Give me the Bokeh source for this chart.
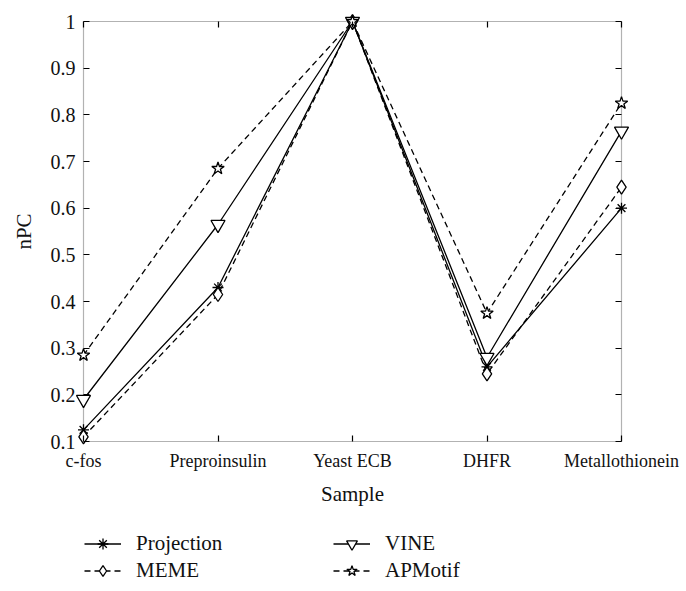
from bokeh.plotting import figure
from bokeh.layouts import column
from bokeh.models import LinearAxis, FixedTicker, Legend, LegendItem, Range1d, BoxAnnotation
from bokeh.embed import file_html
from bokeh.resources import INLINE

categories = ["c-fos", "Preproinsulin", "Yeast ECB", "DHFR", "Metallothionein"]
projection = [0.125, 0.43, 1.0, 0.26, 0.60]
meme = [0.11, 0.415, 1.0, 0.245, 0.645]
vine = [0.19, 0.565, 1.0, 0.28, 0.765]
apmotif = [0.285, 0.685, 1.0, 0.375, 0.825]
y_ticks = [0.1, 0.2, 0.3, 0.4, 0.5, 0.6, 0.7, 0.8, 0.9, 1.0]
y_tick_labels = ["0.1", "0.2", "0.3", "0.4", "0.5", "0.6", "0.7", "0.8", "0.9", "1"]

xs = list(range(1, len(categories) + 1))
FONT = "Liberation Serif"
TXT = "#111111"

# box size in pixels, plus an invisible pad so that edge markers are not clipped
BOX_W, BOX_H, PAD = 538, 420, 8
x0, x1 = xs[0], xs[-1]
y0, y1 = y_ticks[0], y_ticks[-1]
dx = PAD * (x1 - x0) / BOX_W
dy = PAD * (y1 - y0) / BOX_H

p = figure(width=686, height=515, output_backend="svg", toolbar_location=None,
           x_range=Range1d(x0 - dx, x1 + dx), y_range=Range1d(y0 - dy, y1 + dy),
           min_border_left=83 - PAD, min_border_right=65 - PAD, min_border_top=21 - PAD,
           min_border_bottom=0,
           frame_width=BOX_W + 2 * PAD, frame_height=BOX_H + 2 * PAD)
p.grid.visible = False
p.outline_line_color = None
p.background_fill_color = "white"

def style_axis(ax, labels=True, size="19px"):
    # ticks drawn from the box edge (PAD inside the frame edge) inward by 6px
    ax.major_tick_in = PAD + 6
    ax.major_tick_out = -PAD
    ax.minor_tick_in = 0
    ax.minor_tick_out = 0
    ax.axis_line_color = None
    ax.major_tick_line_color = "black"
    ax.major_tick_line_width = 1.2
    ax.major_label_text_font = FONT
    ax.major_label_text_font_size = size
    ax.major_label_text_color = TXT
    ax.axis_label_text_font = FONT
    ax.axis_label_text_font_size = "21px"
    ax.axis_label_text_font_style = "normal"
    ax.axis_label_text_color = TXT
    if not labels:
        ax.major_label_text_alpha = 0
        ax.major_label_text_font_size = "0px"

xa = p.xaxis[0]
xa.ticker = FixedTicker(ticks=xs)
xa.major_label_overrides = {x: c for x, c in zip(xs, categories)}
xa.axis_label = "Sample"
style_axis(xa, size="18px")
xa.major_label_standoff = 1
xa.axis_label_standoff = 8

ya = p.yaxis[0]
ya.ticker = FixedTicker(ticks=y_ticks)
ya.major_label_overrides = {t: l for t, l in zip(y_ticks, y_tick_labels)}
ya.axis_label = "nPC"
style_axis(ya, size="20px")
ya.major_label_standoff = 0
ya.axis_label_standoff = 12

top = LinearAxis(ticker=FixedTicker(ticks=xs))
style_axis(top, labels=False)
p.add_layout(top, "above")
right = LinearAxis(ticker=FixedTicker(ticks=y_ticks))
style_axis(right, labels=False)
p.add_layout(right, "right")

p.add_layout(BoxAnnotation(left=x0, right=x1, bottom=y0, top=y1, fill_alpha=0,
                           line_color="black", line_width=1.2, level="underlay"))

series = [
    ("Projection", projection, "solid", "asterisk", 11),
    ("MEME", meme, "6 4", "diamond", 14),
    ("VINE", vine, "solid", "inverted_triangle", 14),
    ("APMotif", apmotif, "6 4", "star", 13),
]

# legend lives in its own small figure below the chart; its ranges keep the
# (real) series out of view so that only the legend swatches show
lg = figure(width=686, height=76, output_backend="svg", toolbar_location=None,
            x_range=Range1d(-2, -1), y_range=Range1d(-2, -1),
            min_border_left=0, min_border_right=0, min_border_top=0, min_border_bottom=0)
lg.axis.visible = False
lg.grid.visible = False
lg.outline_line_color = None

items = []
for name, vals, dash, marker, size in series:
    fill = "white" if marker != "asterisk" else "black"
    p.line(xs, vals, line_color="black", line_width=1.3, line_dash=dash)
    p.scatter(xs, vals, marker=marker, size=size, line_color="black",
              fill_color=fill, line_width=1.3)
    gl = lg.line(xs, vals, line_color="black", line_width=1.3, line_dash=dash)
    gs = lg.scatter(xs, vals, marker=marker, size=size, line_color="black",
                    fill_color=fill, line_width=1.3)
    items.append(LegendItem(label=name, renderers=[gl, gs]))

legend = Legend(items=items, ncols=2, location=(9, 0))
legend.label_text_font = FONT
legend.label_text_font_size = "21px"
legend.label_text_color = TXT
legend.border_line_color = None
legend.background_fill_alpha = 0
legend.glyph_width = 37
legend.label_standoff = 15
legend.spacing = 0
legend.label_height = 27
legend.glyph_height = 27
legend.label_width = 197
legend.margin = 0
legend.padding = 0
lg.add_layout(legend, "center")

layout = column(p, lg, spacing=0)
open("out.html", "w").write(file_html(layout, INLINE))
